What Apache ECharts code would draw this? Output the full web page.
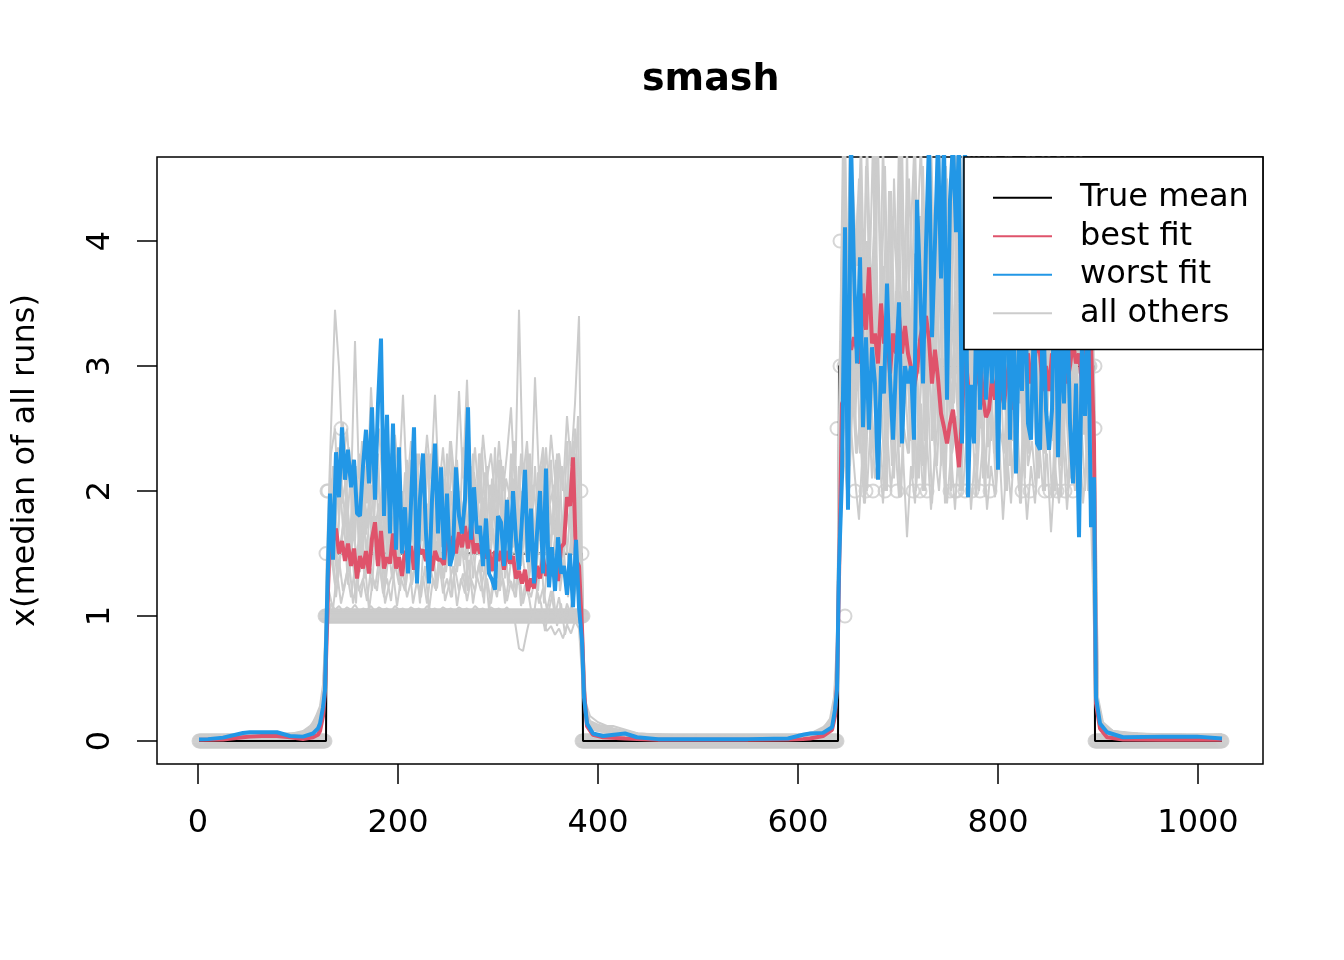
<!DOCTYPE html>
<html><head><meta charset="utf-8">
<script src="https://cdn.jsdelivr.net/npm/echarts@6/dist/echarts.min.js"></script>
<style>html,body{margin:0;padding:0;background:#fff}#c{width:1344px;height:960px}</style>
</head><body><div id="c"></div>
<script>
// ---------- axis ticks ----------
const xTicks = [0, 200, 400, 600, 800, 1000];
const yTicks = [0, 1, 2, 3, 4];

// ---------- true mean (step function) ----------
const trueX = [1, 128, 129, 384, 385, 640, 641, 896, 897, 1024];
const trueY = [0, 0, 1.5, 1.5, 0, 0, 3, 3, 0, 0];

// ---------- median of all runs (circles) ----------
// runs of constant median value: [from, to, value]
const medianRuns = [[1,127,0],[127,385,1],[384,639,0],[646,892,3],[897,1024,0]];
const medianExtra = [[128,1.5],[129,2],[130,2],[143,2.5],[383,2],[384,1.5],[639,2.5],[642,4],[642,3],[647,1],[897,3],[897,2.5],
  [657,2],[668,2],[675,2],[687,2],[699,2],[715,2],[722,2],[729,2],[752,2],[757,2],[759,2],
  [767,2],[774,2],[782,2],[792,2],[824,2],[832,2],[847,2],[852,2],[859,2],[867,2],[875,2]];

// ---------- sample positions for the curves ----------
const fineA = [1,10,25,45,52,64,79,92,105,115,120,122,125,127];
const fineB = [386,389,395,405,427,439,460,500,550,590,605,612,625,634,637,639];
const fineC = [898,902,909,925,965,999,1024];
const coarseA = [1,30,60,90,105,112,118,122,125,127];
const coarseB = [388,392,400,415,440,500,560,600,615,625,632,636,639];
const coarseC = [900,905,915,940,980,1024];

// ---------- best fit (red) ----------
const bestA = [0.01,0.01,0.012,0.03,0.035,0.04,0.04,0.03,0.015,0.03,0.05,0.08,0.2,0.4];
const bestBlock1 = [0.9,1.78,1.6,1.7,1.5,1.6,1.44,1.58,1.4,1.54,
  1.3,1.48,1.38,1.52,1.34,1.62,1.75,1.4,1.68,1.38,
  1.47,1.42,1.66,1.38,1.47,1.32,1.52,1.48,1.56,1.37,
  1.62,1.5,1.53,1.44,1.55,1.36,1.52,1.45,1.45,1.41,
  1.67,1.5,1.64,1.5,1.67,1.55,1.72,1.54,1.74,1.5,
  1.58,1.5,1.62,1.46,1.53,1.36,1.52,1.44,1.52,1.37,
  1.52,1.42,1.48,1.3,1.36,1.26,1.37,1.2,1.3,1.22,
  1.4,1.3,1.47,1.32,1.43,1.32,1.42,1.28,1.55,1.58,
  1.95,1.88,2.27,1.45,1.4,0.9];
const bestB = [0.4,0.12,0.05,0.03,0.02,0.015,0.01,0.01,0.01,0.012,0.015,0.02,0.04,0.09,0.2,0.45];
const bestBlock2 = [1.3,2.7,2.75,3.23,3.13,3.23,3.13,3.02,3.58,3.29,
  3.79,3.18,3.26,3.02,3.5,3.18,3.26,2.94,3.26,3.1,
  3.4,3.1,3.32,3.1,2.99,2.83,2.96,3.21,3.35,3.4,
  3.21,2.86,3.13,2.9,2.62,2.51,2.38,2.54,2.65,2.43,
  2.19,2.59,3.13,2.86,2.5,2.8,2.9,3.1,2.75,2.59,
  2.65,2.9,2.73,3.02,2.8,2.7,2.9,3.08,2.65,2.8,
  3.02,3.2,3.05,3.1,2.86,3.0,3.2,3.1,2.8,3.0,
  2.8,3.1,3.0,3.2,2.86,3.1,2.86,3.0,3.2,3.02,
  3.1,2.86,3.2,3.4,3.2,2.38];
const bestC = [0.3,0.1,0.03,0.012,0.01,0.01,0.01];

// ---------- worst fit (blue) ----------
const worstA = [0.013,0.015,0.027,0.064,0.07,0.07,0.07,0.04,0.035,0.06,0.1,0.14,0.27,0.41];
const worstBlock1 = [1.1,1.98,1.45,2.31,1.95,2.51,2.09,2.33,2.03,2.25,
  1.82,1.8,2.2,2.49,2.06,2.67,1.93,2.7,3.22,1.8,
  2.61,1.66,2.54,1.53,2.35,1.5,1.87,1.34,1.9,2.51,
  1.26,1.94,2.3,1.66,1.26,1.93,2.38,1.66,2.19,1.45,
  1.98,1.4,1.5,2.19,1.8,1.66,1.93,2.67,1.61,2.03,
  1.66,1.72,1.4,1.78,1.34,1.29,1.21,1.8,1.75,1.4,
  1.93,1.45,2.0,1.61,1.37,1.78,2.17,1.43,1.86,1.26,
  1.66,2.0,1.34,2.18,1.23,1.55,1.2,1.63,1.34,1.4,
  1.17,1.5,1.07,1.61,1.07,0.8];
const worstB = [0.35,0.14,0.06,0.04,0.06,0.03,0.015,0.015,0.015,0.02,0.05,0.06,0.065,0.11,0.25,0.41];
const worstBlock2 = [1.4,2.11,4.11,1.85,4.8,3.77,3.02,3.87,2.51,3.23,
  2.49,3.15,2.86,2.09,3.0,2.78,3.66,2.9,2.41,3.0,
  3.51,2.38,3.0,2.86,3.0,2.41,4.33,3.66,2.86,3.97,
  4.8,3.23,3.99,4.8,3.7,4.8,2.73,4.33,4.8,4.07,
  4.8,2.38,4.8,1.95,2.85,2.38,3.8,2.65,3.6,2.73,
  3.4,2.86,3.8,2.17,3.5,2.65,4.2,2.41,3.6,2.14,
  3.3,2.8,3.7,2.54,2.41,3.4,2.38,2.33,3.5,2.65,
  2.33,2.65,4.0,2.27,3.3,2.7,3.6,2.54,2.06,2.86,
  1.63,3.2,2.6,3.5,1.71,2.11];
const worstC = [0.35,0.14,0.07,0.03,0.035,0.035,0.02];

// ---------- all other runs (grey), one row per run ----------
const othersA = [
  [0.03,0.04,0.05,0.04,0.05,0.07,0.1,0.15,0.3,0.6],
  [0.02,0.03,0.06,0.05,0.06,0.09,0.14,0.2,0.35,0.6],
  [0.04,0.05,0.04,0.05,0.08,0.12,0.18,0.25,0.4,0.7],
  [0.02,0.04,0.05,0.03,0.04,0.06,0.09,0.14,0.3,0.5],
  [0.03,0.03,0.05,0.05,0.07,0.1,0.2,0.28,0.45,0.8],
  [0.03,0.05,0.04,0.06,0.07,0.1,0.16,0.22,0.38,0.7],
  [0.04,0.04,0.06,0.04,0.06,0.08,0.12,0.18,0.3,0.55],
  [0.02,0.03,0.05,0.06,0.05,0.08,0.13,0.2,0.33,0.65],
  [0.03,0.04,0.05,0.05,0.06,0.09,0.14,0.21,0.36,0.62],
  [0.02,0.04,0.04,0.05,0.07,0.1,0.15,0.19,0.32,0.58],
  [0.04,0.03,0.05,0.04,0.06,0.08,0.13,0.24,0.4,0.75],
  [0.03,0.05,0.06,0.04,0.05,0.07,0.11,0.17,0.29,0.52],
  [0.02,0.03,0.04,0.05,0.05,0.07,0.11,0.16,0.27,0.5]];
// block 1 samples: runs 1-5,13 at x=129,133..385; runs 6-8 at 131..383; runs 9-10 at 130..382; runs 11-12 at 132..384
const othersBlock1 = [
  [0.9,1.1,1.05,1.08,1.04,1.07,1.05,1.09,1.04,1.06, 1.05,1.08,1.04,1.07,1.05,1.06,1.04,1.08,1.05,1.06,
   1.04,1.07,1.05,1.06,1.04,1.08,1.05,1.06,1.04,1.07, 1.05,1.06,1.04,1.07,1.05,1.06,1.04,1.08,1.05,1.06,
   1.04,1.07,1.05,1.06,1.04,1.07,1.03,0.95,0.74,0.72, 0.88,1.02,1.05,1.0,0.95,0.88,0.92,0.85,0.9,0.82, 0.93,0.86,0.96,0.9,0.4],
  [1.0,1.5,1.25,1.45,1.2,1.35,1.15,1.4,1.2,1.3, 1.12,1.38,1.22,1.45,1.18,1.3,1.12,1.42,1.25,1.35,
   1.15,1.28,1.4,1.2,1.32,1.1,1.36,1.22,1.45,1.18, 1.3,1.15,1.38,1.2,1.34,1.12,1.3,1.2,1.42,1.15,
   1.3,1.1,1.35,1.2,1.3,1.12,1.28,1.15,1.35,1.1, 1.25,1.15,1.3,1.1,1.22,1.05,1.2,1.0,1.15,0.95, 1.1,1.0,1.2,1.3,0.5],
  [1.2,2.0,1.6,2.2,1.7,1.9,1.55,2.0,1.6,1.85, 1.5,2.05,1.7,1.9,1.55,2.1,1.6,1.8,1.5,1.95,
   1.65,1.85,1.5,2.0,1.6,1.9,1.55,2.05,1.7,1.85, 1.5,2.0,1.6,1.9,1.55,2.1,1.65,1.8,1.5,1.95,
   1.6,1.85,1.5,2.0,1.65,1.9,1.55,2.0,1.6,1.8, 1.5,1.95,1.6,1.85,1.5,1.9,1.55,2.0,1.6,1.8, 1.5,1.9,2.2,1.8,0.6],
  [1.5,2.5,3.45,2.99,2.2,2.5,2.0,3.2,2.1,2.4, 1.9,2.83,2.2,2.5,2.0,2.35,1.9,2.45,2.1,2.77,
   2.0,2.4,1.95,2.3,2.0,2.45,2.1,2.77,2.0,2.35, 1.9,2.4,2.05,2.8,2.1,2.89,2.0,2.35,1.9,2.45,
   2.1,2.3,1.95,2.4,2.0,2.3,2.67,2.0,3.45,2.1, 2.4,1.9,2.91,2.1,2.35,1.95,2.45,2.1,2.3,2.0, 2.6,2.2,2.7,3.4,0.8],
  [1.3,2.3,2.5,1.8,2.55,1.7,2.2,1.6,2.3,1.5, 2.25,1.7,2.4,1.6,2.2,1.45,2.3,1.6,2.1,1.5,
   2.25,1.7,2.3,1.55,2.15,1.6,2.3,1.5,2.2,1.65, 2.3,1.55,2.2,1.6,2.35,1.5,2.2,1.65,2.3,1.55,
   2.2,1.6,2.35,1.5,2.2,1.6,2.3,1.5,2.2,1.6, 2.3,1.55,2.2,1.6,2.3,1.5,2.25,1.6,2.3,1.55, 2.4,1.7,2.5,2.0,0.7],
  [1.7,2.2,1.5,2.1,1.8,2.35,1.6,2.0,1.45,2.2, 1.9,1.55,2.3,1.7,2.05,1.5,2.25,1.8,1.6,2.15,
   1.45,1.95,2.3,1.65,2.0,1.5,2.2,1.75,1.55,2.1, 1.9,1.45,2.25,1.7,2.0,1.6,2.3,1.5,1.85,2.15,
   1.55,2.0,1.7,2.25,1.5,1.9,2.1,1.6,2.3,1.75, 1.5,2.05,1.8,2.2,1.55,1.95,1.65,2.3,1.5,2.0, 1.7,2.4,1.8,1.3],
  [1.4,1.75,1.3,1.6,1.85,1.35,1.7,1.45,1.9,1.3, 1.55,1.8,1.4,1.65,1.25,1.75,1.5,1.85,1.35,1.6,
   1.45,1.8,1.3,1.7,1.55,1.9,1.4,1.6,1.3,1.75, 1.5,1.85,1.35,1.65,1.45,1.8,1.3,1.6,1.5,1.9,
   1.35,1.7,1.45,1.85,1.3,1.6,1.55,1.8,1.4,1.7, 1.3,1.65,1.5,1.85,1.35,1.6,1.45,1.8,1.3,1.7, 1.4,1.9,1.5,1.1],
  [1.2,1.05,1.35,1.1,1.25,1.45,1.1,1.3,1.15,1.4, 1.05,1.3,1.2,1.5,1.1,1.25,1.35,1.08,1.3,1.2,
   1.45,1.1,1.28,1.15,1.4,1.05,1.3,1.22,1.5,1.12, 1.25,1.4,1.08,1.3,1.18,1.45,1.1,1.32,1.2,1.4,
   1.05,1.28,1.15,1.42,1.1,1.3,1.2,1.5,1.08,1.25, 1.15,0.95,1.2,1.1,0.88,1.05,1.2,0.92,1.1,0.85, 1.0,1.15,1.3,1.05],
  [1.6,2.1,1.4,1.9,2.3,1.5,1.8,2.2,1.35,2.0, 1.7,2.25,1.45,1.85,2.1,1.5,2.3,1.6,1.95,1.4,
   2.2,1.75,1.5,2.05,1.65,2.3,1.45,1.9,2.15,1.55, 1.8,2.25,1.4,2.0,1.7,2.2,1.5,1.85,2.3,1.6,
   1.45,2.1,1.75,2.25,1.5,1.95,1.6,2.2,1.4,1.9, 2.3,1.55,1.8,2.15,1.45,2.0,1.65,2.25,1.5,1.85, 2.1,1.6,2.3,1.2],
  [1.3,1.6,1.15,1.45,1.75,1.25,1.55,1.1,1.7,1.35, 1.5,1.2,1.8,1.4,1.15,1.6,1.3,1.7,1.2,1.5,
   1.75,1.25,1.45,1.1,1.65,1.35,1.8,1.2,1.55,1.3, 1.7,1.15,1.5,1.4,1.75,1.2,1.6,1.3,1.45,1.1,
   1.7,1.35,1.55,1.2,1.8,1.25,1.5,1.15,1.65,1.4, 1.2,1.6,1.3,1.75,1.1,1.5,1.35,1.7,1.2,1.45, 1.15,1.6,1.35,1.0],
  [2.0,1.7,2.35,1.9,2.1,1.6,2.25,1.8,2.4,1.65, 2.05,1.85,2.3,1.55,2.15,1.95,2.4,1.7,2.0,1.6,
   2.25,1.8,2.1,1.65,2.35,1.9,2.05,1.55,2.2,1.75, 2.4,1.85,2.0,1.6,2.3,1.7,2.15,1.9,2.35,1.65,
   2.05,1.8,2.25,1.6,2.1,1.95,2.4,1.7,2.0,1.85, 2.3,1.6,2.15,1.75,2.35,1.9,2.05,1.65,2.2,1.8, 2.4,1.9,2.6,0.9],
  [1.5,1.85,1.3,1.65,1.95,1.4,1.7,1.25,1.9,1.55, 1.35,1.8,1.45,2.0,1.3,1.6,1.85,1.4,1.75,1.25,
   1.95,1.5,1.35,1.7,1.9,1.3,1.6,1.45,1.85,1.35, 1.65,2.0,1.4,1.55,1.25,1.8,1.5,1.95,1.35,1.7,
   1.45,1.9,1.3,1.6,1.85,1.4,1.75,1.25,1.95,1.5, 1.35,1.7,1.2,1.6,1.85,1.3,1.55,1.4,1.8,1.25, 1.5,1.7,1.4,0.7],
  [1.2,1.52,1.49,1.51,1.5,1.48,1.51,1.5,1.52,1.49, 1.5,1.51,1.49,1.52,1.5,1.48,1.51,1.5,1.49,1.52,
   1.5,1.51,1.48,1.5,1.52,1.49,1.51,1.5,1.48,1.51, 1.5,1.52,1.49,1.5,1.51,1.48,1.5,1.52,1.49,1.51,
   1.5,1.48,1.51,1.5,1.52,1.49,1.5,1.51,1.48,1.5, 1.52,1.49,1.51,1.5,1.48,1.51,1.5,1.52,1.49,1.5, 1.51,1.49,1.52,1.5,0.6]];
const othersB = [
  [0.2,0.13,0.11,0.09,0.05,0.03,0.03,0.04,0.05,0.08,0.12,0.2,0.5],
  [0.25,0.15,0.12,0.12,0.06,0.03,0.04,0.05,0.06,0.1,0.15,0.3,0.7],
  [0.15,0.1,0.08,0.06,0.04,0.03,0.03,0.04,0.07,0.09,0.14,0.25,0.6],
  [0.3,0.2,0.15,0.1,0.05,0.04,0.03,0.05,0.06,0.1,0.18,0.35,0.8],
  [0.2,0.12,0.1,0.07,0.05,0.03,0.04,0.04,0.06,0.08,0.12,0.22,0.55],
  [0.22,0.14,0.1,0.08,0.05,0.04,0.03,0.04,0.06,0.09,0.13,0.24,0.6],
  [0.18,0.11,0.09,0.07,0.04,0.03,0.04,0.05,0.07,0.11,0.16,0.28,0.65],
  [0.26,0.16,0.13,0.1,0.06,0.04,0.03,0.04,0.05,0.08,0.12,0.21,0.5],
  [0.21,0.13,0.1,0.08,0.05,0.03,0.04,0.04,0.06,0.09,0.13,0.23,0.55],
  [0.19,0.12,0.11,0.09,0.05,0.04,0.03,0.05,0.06,0.1,0.15,0.27,0.62],
  [0.24,0.15,0.12,0.09,0.06,0.03,0.04,0.04,0.07,0.09,0.14,0.25,0.58],
  [0.17,0.1,0.09,0.07,0.04,0.04,0.03,0.05,0.05,0.08,0.12,0.22,0.52],
  [0.16,0.1,0.08,0.06,0.04,0.03,0.03,0.04,0.05,0.07,0.1,0.18,0.45]];
// block 2 samples: runs 1-5,13 at x=641,645..897; runs 6-8 at 643..895; runs 9-10 at 642..894; runs 11-12 at 644..896
const othersBlock2 = [
  [1.5,2.4,2.0,2.5,2.1,1.77,2.4,2.0,2.6,2.1, 2.3,1.9,2.5,2.0,2.4,1.95,2.3,1.63,2.2,1.9,
   2.5,2.0,2.4,1.85,2.3,2.0,2.5,1.9,2.3,1.85, 2.4,2.0,2.5,1.85,2.3,2.0,2.4,1.85,2.2,1.95,
   2.4,1.77,2.3,1.9,2.5,2.0,2.3,1.77,2.2,1.9, 2.4,2.0,2.3,1.67,2.2,1.9,2.4,1.85,2.3,2.0, 2.5,1.9,2.3,1.8,0.6],
  [2.0,3.2,2.5,3.3,2.6,3.1,2.4,3.4,2.7,3.0, 2.5,3.3,2.6,3.1,2.4,3.2,2.7,3.0,2.5,3.3,
   2.6,3.1,2.4,3.4,2.6,3.0,2.5,3.2,2.7,3.0, 2.4,3.3,2.6,3.1,2.5,3.2,2.6,3.0,2.4,3.3,
   2.7,3.0,2.5,3.2,2.6,3.1,2.4,3.3,2.7,3.0, 2.5,3.2,2.6,3.1,2.4,3.3,2.7,3.0,2.5,3.2, 2.6,3.1,2.5,3.0,0.8],
  [2.5,4.8,3.5,4.8,3.8,4.5,3.2,4.8,3.6,4.2, 3.0,4.8,3.5,4.4,3.1,4.8,3.7,4.3,3.0,4.8,
   3.4,4.6,3.2,4.8,3.6,4.8,3.3,4.5,3.0,4.8, 3.5,4.8,3.2,4.4,3.6,4.8,3.1,4.5,3.4,4.8,
   3.0,4.3,3.5,4.8,3.2,4.6,3.0,4.8,3.5,4.2, 3.1,4.8,3.4,4.5,3.0,4.8,3.3,4.4,3.0,4.8, 3.5,4.2,3.1,4.0,1.0],
  [1.8,3.6,2.2,4.8,2.5,3.9,2.1,3.5,2.3,4.8, 2.6,3.7,2.0,4.1,2.4,3.6,2.2,4.8,2.5,3.8,
   2.1,4.2,2.6,3.7,2.2,4.8,2.4,3.9,2.0,3.6, 2.5,4.5,2.2,3.7,2.4,4.0,2.1,3.6,2.5,4.8,
   2.3,3.8,2.0,3.5,2.4,4.2,2.2,3.6,2.5,4.0, 2.1,3.7,2.4,4.4,2.0,3.6,2.3,3.9,2.1,3.5, 2.4,4.0,2.2,3.3,0.9],
  [2.2,3.9,3.0,4.2,2.8,3.6,3.0,4.0,2.9,3.5, 2.7,3.8,3.1,3.5,2.8,4.1,3.0,3.6,2.7,3.9,
   3.1,3.5,2.8,4.0,3.0,3.7,2.7,3.8,3.1,3.5, 2.8,4.1,3.0,3.6,2.7,3.9,3.1,3.5,2.8,4.0,
   3.0,3.7,2.7,3.8,3.1,3.5,2.8,4.1,3.0,3.6, 2.7,3.9,3.1,3.5,2.8,4.0,3.0,3.7,2.7,3.8, 3.1,3.5,2.8,3.6,0.9],
  [3.0,4.8,2.4,3.9,2.8,4.6,2.2,3.5,4.8,2.6, 3.8,2.3,4.4,3.0,2.5,4.8,2.7,3.6,2.1,4.2,
   3.3,2.4,4.8,2.9,3.7,2.2,4.5,3.1,2.6,4.8, 2.8,3.9,2.3,4.3,3.0,2.5,4.8,2.7,3.5,2.2,
   4.6,3.2,2.4,4.1,2.9,3.6,2.1,4.8,3.0,2.6, 3.9,2.3,4.4,2.8,3.4,2.2,4.7,3.1,2.5,3.8, 2.7,4.2,2.4,3.2],
  [2.4,2.9,2.0,3.1,2.3,2.7,1.9,3.0,2.5,2.2, 2.8,2.0,3.2,2.4,2.6,1.95,2.9,2.3,3.1,2.1,
   2.7,2.0,3.0,2.5,2.2,2.9,1.9,3.1,2.4,2.6, 2.0,2.8,2.3,3.2,2.1,2.7,1.95,3.0,2.5,2.2,
   2.9,2.0,3.1,2.4,2.6,1.9,2.8,2.3,3.0,2.1, 2.7,2.0,3.2,2.4,2.5,1.95,2.9,2.2,3.0,2.3, 2.6,2.0,2.8,2.4],
  [3.6,4.8,3.2,4.4,3.8,4.8,3.3,4.1,3.0,4.8, 3.5,4.6,3.1,4.2,3.7,4.8,3.2,4.5,3.4,4.0,
   4.8,3.3,4.3,3.0,4.7,3.6,4.1,3.2,4.8,3.5, 4.4,3.1,4.8,3.8,4.2,3.0,4.6,3.4,4.8,3.2,
   4.0,3.6,4.8,3.1,4.5,3.3,4.2,3.7,4.8,3.0, 4.4,3.5,4.8,3.2,4.1,3.6,4.7,3.0,4.3,3.4, 4.8,3.2,4.0,3.5],
  [3.2,2.5,3.9,2.8,3.5,2.3,4.1,3.0,2.6,3.7, 2.4,3.3,4.0,2.7,3.6,2.35,3.9,3.1,2.5,3.4,
   4.2,2.8,3.5,2.4,3.8,3.0,2.6,4.0,2.9,3.3, 2.45,3.7,3.1,2.5,4.1,2.8,3.4,2.35,3.9,3.0,
   2.6,3.6,2.4,4.0,3.2,2.7,3.5,2.3,3.8,2.9, 3.4,2.5,4.1,3.0,2.6,3.7,2.4,3.3,3.9,2.8, 3.5,2.45,3.2,2.6],
  [2.2,2.7,2.0,2.9,2.3,2.5,1.9,2.8,2.1,2.6, 2.4,2.0,3.0,2.2,2.7,1.95,2.5,2.3,2.9,2.0,
   2.6,2.2,2.8,1.9,2.4,2.7,2.1,3.0,2.3,2.5, 2.0,2.8,2.2,2.6,1.95,2.9,2.4,2.1,2.7,2.0,
   2.5,2.3,2.9,2.1,2.6,1.9,2.8,2.2,2.4,2.0, 3.0,2.3,2.6,1.95,2.7,2.2,2.5,2.0,2.9,2.1, 2.4,2.7,2.0,2.5],
  [4.0,3.1,4.8,3.4,4.3,2.9,4.6,3.6,3.0,4.8, 3.3,4.1,2.8,4.5,3.5,4.8,3.0,3.9,4.7,3.2,
   4.2,2.9,4.8,3.6,4.0,3.1,4.6,3.4,4.8,3.0, 3.8,4.4,3.2,4.8,2.9,4.1,3.5,4.7,3.0,4.3,
   3.3,4.8,3.1,3.9,4.5,2.9,4.2,3.6,4.8,3.2, 4.0,3.0,4.6,3.4,4.8,3.1,3.8,4.4,3.0,4.1, 3.5,4.3,3.2,2.9],
  [2.6,3.3,2.2,3.0,2.8,3.5,2.4,2.9,3.6,2.3, 3.1,2.7,3.4,2.1,3.0,2.6,3.5,2.4,3.2,2.8,
   2.2,3.4,2.9,3.6,2.5,3.0,2.3,3.3,2.7,3.5, 2.2,3.1,2.8,3.4,2.4,3.6,2.6,3.0,2.3,3.3,
   2.9,3.5,2.2,3.1,2.7,3.4,2.5,3.0,3.6,2.4, 3.2,2.8,3.5,2.3,3.0,2.6,3.4,2.2,3.1,2.7, 3.3,2.5,3.0,2.2],
  [2.4,3.02,2.99,3.01,3.0,2.98,3.01,3.0,3.02,2.99, 3.0,3.01,2.99,3.02,3.0,2.98,3.01,3.0,2.99,3.02,
   3.0,3.01,2.98,3.0,3.02,2.99,3.01,3.0,2.98,3.01, 3.0,3.02,2.99,3.0,3.01,2.98,3.0,3.02,2.99,3.01,
   3.0,2.98,3.01,3.0,3.02,2.99,3.0,3.01,2.98,3.0, 3.02,2.99,3.01,3.0,2.98,3.01,3.0,3.02,2.99,3.0, 3.01,2.99,3.02,3.0,0.8]];
const othersC = [
  [0.3,0.12,0.07,0.05,0.04,0.04],
  [0.25,0.1,0.06,0.05,0.04,0.05],
  [0.35,0.15,0.08,0.05,0.05,0.04],
  [0.2,0.09,0.06,0.04,0.05,0.04],
  [0.3,0.11,0.07,0.06,0.04,0.05],
  [0.28,0.12,0.07,0.05,0.05,0.04],
  [0.22,0.1,0.06,0.04,0.04,0.05],
  [0.32,0.13,0.08,0.06,0.04,0.04],
  [0.27,0.11,0.07,0.05,0.04,0.05],
  [0.24,0.1,0.06,0.05,0.05,0.04],
  [0.31,0.13,0.08,0.05,0.04,0.04],
  [0.26,0.12,0.07,0.06,0.05,0.05],
  [0.2,0.08,0.05,0.04,0.04,0.04]];

// ---------- helpers ----------
function range(a, b, s) { const r = []; for (let x = a; x <= b; x += s) r.push(x); return r; }
function zip(xs, ys) { const n = Math.min(xs.length, ys.length), o = []; for (let i = 0; i < n; i++) o.push([xs[i], ys[i]]); return o; }
function build(xsegs, ysegs) { let o = []; xsegs.forEach((xs, i) => { o = o.concat(zip(xs, ysegs[i])); }); return o; }

const fineX = [fineA, range(129, 384, 3), fineB, range(641, 896, 3), fineC];
const coarseGrids = [
  [coarseA, range(129, 385, 4), coarseB, range(641, 897, 4), coarseC],
  [coarseA, range(131, 383, 4), coarseB, range(643, 895, 4), coarseC],
  [coarseA, range(130, 382, 4), coarseB, range(642, 894, 4), coarseC],
  [coarseA, range(132, 384, 4), coarseB, range(644, 896, 4), coarseC]];
const othersGrid = [0,0,0,0,0,1,1,1,2,2,3,3,0];

const medianPts = [];
medianRuns.forEach(([a, b, v]) => { for (let x = a; x <= b; x++) medianPts.push([x, v]); });
medianExtra.forEach(p => medianPts.push(p));

const FONT = 'DejaVu Sans';
const RED = '#DF536B', BLUE = '#2297E6', GREY = '#CCCCCC';

function lineSeries(name, data, color, width) {
  return {
    type: 'line', name, data, showSymbol: false, symbol: 'none', clip: true,
    lineStyle: { color, width }, itemStyle: { color },
    emphasis: { disabled: true }, silent: true, animation: false
  };
}

const series = [{
  type: 'scatter', name: 'median', data: medianPts, symbol: 'circle', symbolSize: 13,
  itemStyle: { color: 'rgba(0,0,0,0)', borderColor: GREY, borderWidth: 2 },
  silent: true, animation: false, emphasis: { disabled: true }
}];
series.push(lineSeries('True mean', zip(trueX, trueY), '#000000', 2));
for (let k = 0; k < othersBlock1.length; k++) {
  series.push(lineSeries('all others',
    build(coarseGrids[othersGrid[k]], [othersA[k], othersBlock1[k], othersB[k], othersBlock2[k], othersC[k]]), GREY, 2));
}
series.push(lineSeries('best fit', build(fineX, [bestA, bestBlock1, bestB, bestBlock2, bestC]), RED, 4));
series.push(lineSeries('worst fit', build(fineX, [worstA, worstBlock1, worstB, worstBlock2, worstC]), BLUE, 4));

const chart = echarts.init(document.getElementById('c'), null, { renderer: 'canvas', width: 1344, height: 960 });
chart.setOption({
  animation: false,
  backgroundColor: '#ffffff',
  title: {
    text: 'smash', left: 642, top: 61, padding: 0,
    textStyle: { fontFamily: FONT, fontSize: 38, fontWeight: 'bold', color: '#000' }
  },
  legend: {
    data: ['True mean', 'best fit', 'worst fit', 'all others'],
    orient: 'vertical', left: 964, top: 157,
    padding: [21.5, 14, 17, 29], itemGap: 0,
    itemWidth: 59, itemHeight: 2, icon: 'rect',
    itemStyle: { borderWidth: 0 },
    backgroundColor: '#ffffff', borderColor: '#000000', borderWidth: 1.5, borderRadius: 0,
    selectedMode: false,
    textStyle: { fontFamily: FONT, fontSize: 32, color: '#000', lineHeight: 38.5, padding: [0, 0, 0, 23] }
  },
  grid: { left: 157, right: 81, top: 157, bottom: 196, show: true, borderColor: '#000', borderWidth: 1.5, backgroundColor: 'rgba(0,0,0,0)' },
  xAxis: {
    type: 'value', min: -41, max: 1065,
    axisLine: { show: false, onZero: false }, splitLine: { show: false },
    axisTick: { show: true, inside: false, length: 20, lineStyle: { color: '#000', width: 1.5 }, customValues: xTicks },
    axisLabel: { customValues: xTicks, formatter: v => String(v), fontFamily: FONT, fontSize: 32, color: '#000', margin: 44 }
  },
  yAxis: {
    type: 'value', min: -0.184, max: 4.672,
    name: 'x(median of all runs)', nameLocation: 'middle', nameRotate: 90, nameGap: 115,
    nameTextStyle: { fontFamily: FONT, fontSize: 32, color: '#000' },
    axisLine: { show: false, onZero: false }, splitLine: { show: false },
    axisTick: { show: true, inside: false, length: 20, lineStyle: { color: '#000', width: 1.5 }, customValues: yTicks },
    axisLabel: { customValues: yTicks, formatter: v => String(v), rotate: 90, fontFamily: FONT, fontSize: 32, color: '#000', margin: 40 }
  },
  series
});
</script>
</body></html>
